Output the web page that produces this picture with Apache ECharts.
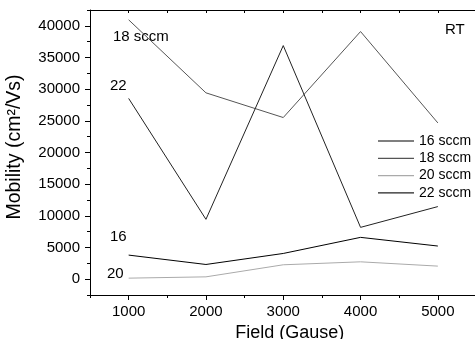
<!DOCTYPE html>
<html><head><meta charset="utf-8">
<script src="https://cdn.jsdelivr.net/npm/echarts@6/dist/echarts.min.js"></script>
<style>html,body{margin:0;padding:0;background:#fff}#c{width:475px;height:339px}</style>
</head><body><div id="c"></div>
<script>
const fields = [1000, 2000, 3000, 4000, 5000];
const s16 = [3800, 2320, 4060, 6600, 5230];
const s18 = [40950, 29420, 25520, 39100, 24670];
const s20 = [160, 365, 2270, 2740, 2060];
const s22 = [28540, 9450, 36880, 8180, 11460];
const xTicks = [1000, 2000, 3000, 4000, 5000];
const xMinor = [500, 1500, 2500, 3500, 4500, 5500];
const yTicks = [0, 5000, 10000, 15000, 20000, 25000, 30000, 35000, 40000];
const yMinor = [-2500, 2500, 7500, 12500, 17500, 22500, 27500, 32500, 37500, 42500];
const names = ['16 sccm', '18 sccm', '20 sccm', '22 sccm'];
const colors = ['#000000', '#555555', '#aaaaaa', '#222222'];
const FONT = '"Liberation Sans", Arial, sans-serif';

const chart = echarts.init(document.getElementById('c'));
const mk = (vals, i) => ({
  name: names[i], type: 'line', xAxisIndex: 0, yAxisIndex: 0,
  data: fields.map((f, k) => [f, vals[k]]),
  symbol: 'none', lineStyle: { color: colors[i], width: 1 }, itemStyle: { color: colors[i] },
  animation: false, z: 3
});
const G = { left: 90, top: 10, bottom: 44, right: -1.5, containLabel: false, outerBoundsMode: 'none' };
const X = { type: 'value', min: 500, max: 5500, splitLine: { show: false } };
const Y = { type: 'value', min: -2500, max: 42500, splitLine: { show: false } };
const LINE = { show: true, onZero: false, lineStyle: { color: '#000', width: 1 } };
const NOLINE = { show: false, onZero: false };
chart.setOption({
  animation: false,
  grid: [Object.assign({}, G), Object.assign({}, G), Object.assign({}, G)],
  legend: {
    orient: 'vertical', left: 373, top: 129, itemWidth: 36, itemHeight: 1.2, itemGap: 3.3,
    icon: 'rect',
    textStyle: { fontFamily: FONT, fontSize: 14, color: '#000' },
    data: names
  },
  xAxis: [
    Object.assign({}, X, { gridIndex: 0, position: 'bottom',
      name: 'Field (Gause)', nameLocation: 'middle', nameGap: 25,
      nameTextStyle: { fontFamily: FONT, fontSize: 18, color: '#000', padding: [0, 0, 0, 13] },
      axisLine: LINE,
      axisTick: { show: true, customValues: xTicks, length: 5, lineStyle: { color: '#000' } },
      axisLabel: { customValues: xTicks, formatter: v => String(v), fontFamily: FONT, fontSize: 15, color: '#000', margin: 9 } }),
    Object.assign({}, X, { gridIndex: 1, position: 'top', interval: 500,
      axisLine: LINE,
      axisTick: { show: true, inside: true, length: 3, lineStyle: { color: '#000' } },
      axisLabel: { show: false } }),
    Object.assign({}, X, { gridIndex: 2, position: 'bottom',
      axisLine: NOLINE,
      axisTick: { show: true, customValues: xMinor, length: 3, lineStyle: { color: '#000' } },
      axisLabel: { show: false } })
  ],
  yAxis: [
    Object.assign({}, Y, { gridIndex: 0, position: 'left',
      name: 'Mobility (cm²/Vs)', nameLocation: 'middle', nameGap: 65, nameRotate: 90,
      nameTextStyle: { fontFamily: FONT, fontSize: 19.5, color: '#000', padding: [0, 0, 0, 11] },
      axisLine: LINE,
      axisTick: { show: true, customValues: yTicks, length: 5, lineStyle: { color: '#000' } },
      axisLabel: { customValues: yTicks, formatter: v => String(v), fontFamily: FONT, fontSize: 15, color: '#000', margin: 10 } }),
    Object.assign({}, Y, { gridIndex: 1, position: 'left',
      axisLine: NOLINE,
      axisTick: { show: true, customValues: yMinor, length: 3, lineStyle: { color: '#000' } },
      axisLabel: { show: false } }),
    Object.assign({}, Y, { gridIndex: 2, show: false, axisLine: NOLINE })
  ],
  graphic: [
    { type: 'text', left: 113, top: 29, style: { text: '18 sccm', font: '15px ' + FONT, fill: '#000' } },
    { type: 'text', left: 110, top: 78, style: { text: '22', font: '15px ' + FONT, fill: '#000' } },
    { type: 'text', left: 110, top: 229, style: { text: '16', font: '15px ' + FONT, fill: '#000' } },
    { type: 'text', left: 107, top: 266, style: { text: '20', font: '15px ' + FONT, fill: '#000' } },
    { type: 'text', left: 445, top: 22, style: { text: 'RT', font: '15px ' + FONT, fill: '#000' } }
  ],
  series: [mk(s16, 0), mk(s18, 1), mk(s20, 2), mk(s22, 3)]
});
</script></body></html>
